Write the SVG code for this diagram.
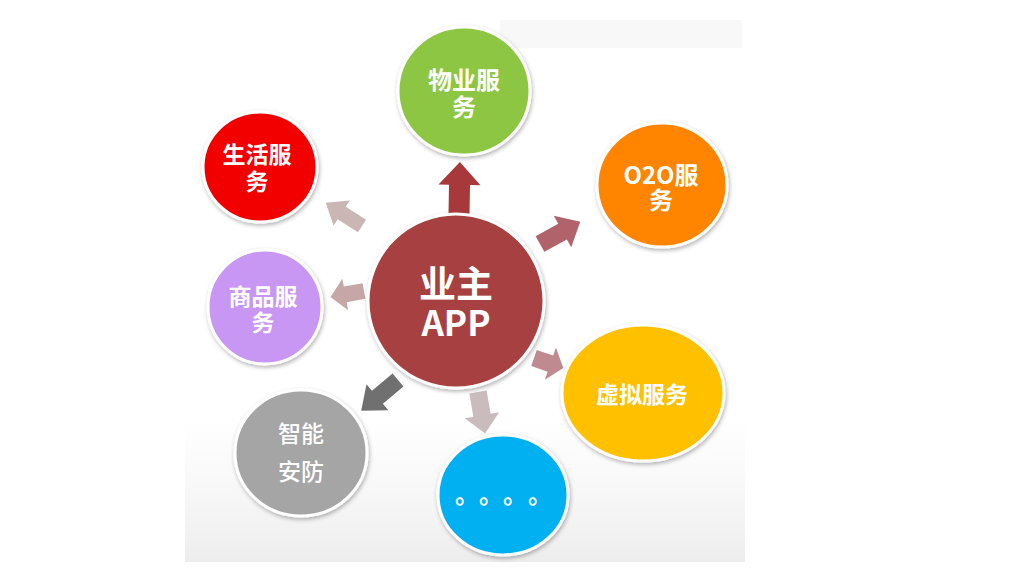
<svg xmlns="http://www.w3.org/2000/svg" xmlns:xlink="http://www.w3.org/1999/xlink" width="1014" height="577" viewBox="0 0 1014 577">
<style>
.node{stroke:#ffffff;stroke-width:3;filter:url(#sh)}
.lbl{font-family:"Noto Sans CJK SC","Liberation Sans",sans-serif;font-weight:bold;fill:#ffffff;text-anchor:middle;dominant-baseline:central}
.lbl2{font-family:"Noto Sans CJK SC","Liberation Sans",sans-serif;font-weight:500;fill:#ffffff;text-anchor:middle;dominant-baseline:central}
</style>
<defs>
<filter id="sh" x="-20%" y="-20%" width="140%" height="140%">
<feDropShadow dx="1" dy="2" stdDeviation="2" flood-color="#000" flood-opacity="0.3"/>
</filter>
<linearGradient id="bg" x1="0" y1="0" x2="0" y2="1">
<stop offset="0" stop-color="#f2f2f2" stop-opacity="0"/>
<stop offset="1" stop-color="#ebebeb" stop-opacity="0.9"/>
</linearGradient>
<path id="arrow" d="M0,-10 L28,-10 L28,-20 L50,0 L28,20 L28,10 L0,10 Z"/>
</defs>
<rect width="1014" height="577" fill="#ffffff"/>
<rect x="500" y="20" width="242" height="28" fill="#f8f8f8"/>
<rect x="185" y="415" width="560" height="147" fill="url(#bg)"/>
<g id="connectors">
<use xlink:href="#arrow" transform="translate(459,214) rotate(-89) scale(1.04,1.05)" fill="#a8393b"/>
<use xlink:href="#arrow" transform="translate(540,244) rotate(-29) scale(0.92,0.9)" fill="#b0636b"/>
<use xlink:href="#arrow" transform="translate(362,226) rotate(-147.4) scale(0.86,0.75)" fill="#cbb6b6"/>
<use xlink:href="#arrow" transform="translate(364,291) rotate(169.7) scale(0.68,0.8)" fill="#c6a6a6"/>
<use xlink:href="#arrow" transform="translate(398,380) rotate(140) scale(0.96,0.85)" fill="#707070"/>
<use xlink:href="#arrow" transform="translate(478,392) rotate(80.3) scale(0.84,0.875)" fill="#cabcbc"/>
<use xlink:href="#arrow" transform="translate(534,358) rotate(19) scale(0.62,0.85)" fill="#c08a91"/>
</g>
<g id="node-center">
<ellipse class="node" cx="456" cy="301" rx="88" ry="87" fill="#a7403f"/>
<text class="lbl"><tspan x="456" y="282" font-size="37">业主</tspan><tspan x="456" y="320" font-size="35">APP</tspan></text>
</g>
<g id="node-wuye">
<ellipse class="node" cx="464" cy="91" rx="66" ry="64" fill="#8dc642"/>
<text class="lbl" font-size="24"><tspan x="464" y="78">物业服</tspan><tspan x="464" y="105">务</tspan></text>
</g>
<g id="node-shenghuo">
<ellipse class="node" cx="260" cy="167" rx="57" ry="55" fill="#f20000"/>
<text class="lbl" font-size="23"><tspan x="257" y="153">生活服</tspan><tspan x="257" y="180">务</tspan></text>
</g>
<g id="node-o2o">
<ellipse class="node" cx="662" cy="185" rx="65" ry="62" fill="#ff8400"/>
<text class="lbl" font-size="24"><tspan x="661" y="173">O2O服</tspan><tspan x="661" y="198">务</tspan></text>
</g>
<g id="node-shangpin">
<ellipse class="node" cx="265" cy="307" rx="57" ry="57" fill="#c897f3"/>
<text class="lbl" font-size="23"><tspan x="263" y="295">商品服</tspan><tspan x="263" y="321">务</tspan></text>
</g>
<g id="node-xuni">
<ellipse class="node" cx="643" cy="393" rx="81" ry="68" fill="#ffc000"/>
<text class="lbl" x="642" y="393" font-size="23">虚拟服务</text>
</g>
<g id="node-anfang">
<ellipse class="node" cx="301" cy="453" rx="66" ry="63" fill="#a5a5a5"/>
<text class="lbl2" font-size="23"><tspan x="301" y="432">智能</tspan><tspan x="301" y="470">安防</tspan></text>
</g>
<g id="node-more">
<ellipse class="node" cx="503" cy="495" rx="65" ry="60" fill="#00b0f0"/>
<text font-size="24" font-family="Noto Sans CJK SC, sans-serif" font-weight="bold" fill="#ffffff"><tspan x="455" y="503">。</tspan><tspan x="479" y="503">。</tspan><tspan x="503" y="503">。</tspan><tspan x="528" y="503">。</tspan></text>
</g>
</svg>
